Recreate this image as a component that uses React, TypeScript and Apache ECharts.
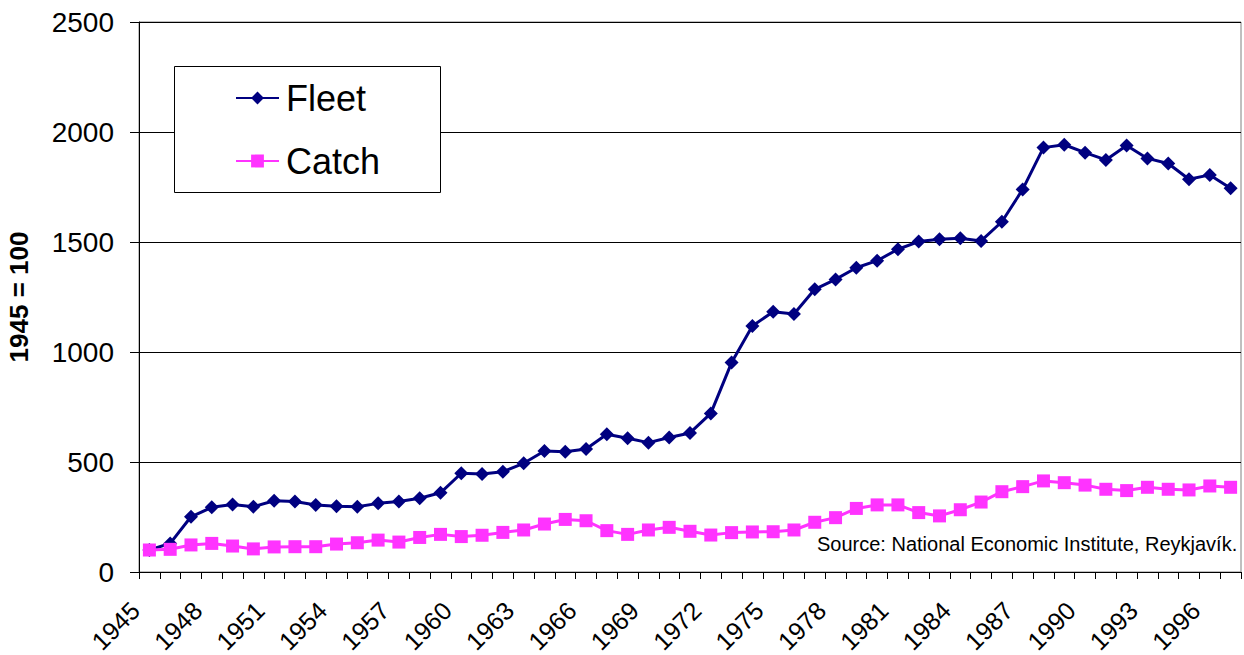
import React, { useEffect, useRef } from "react";
import * as echarts from "echarts";

const years: string[] = [
  "1945", "1946", "1947", "1948", "1949", "1950", "1951", "1952", "1953", "1954",
  "1955", "1956", "1957", "1958", "1959", "1960", "1961", "1962", "1963", "1964",
  "1965", "1966", "1967", "1968", "1969", "1970", "1971", "1972", "1973", "1974",
  "1975", "1976", "1977", "1978", "1979", "1980", "1981", "1982", "1983", "1984",
  "1985", "1986", "1987", "1988", "1989", "1990", "1991", "1992", "1993", "1994",
  "1995", "1996", "1997",
];

const fleet: number[] = [
  100, 130, 251, 294, 307, 297, 324, 320, 305, 299,
  297, 312, 320, 335, 360, 449, 445, 456, 494, 550,
  547, 559, 626, 608, 588, 611, 632, 721, 952, 1118,
  1183, 1173, 1285, 1330, 1383, 1415, 1467, 1502, 1512, 1517,
  1505, 1592, 1739, 1929, 1942, 1906, 1873, 1939, 1880, 1857,
  1785, 1805, 1744,
];

const catchIdx: number[] = [
  100, 103, 123, 130, 118, 105, 114, 115, 115, 127,
  133, 145, 136, 157, 171, 161, 167, 180, 191, 218,
  239, 233, 188, 171, 191, 203, 185, 168, 179, 182,
  183, 191, 226, 247, 289, 305, 305, 270, 255, 283,
  318, 365, 388, 414, 406, 395, 376, 370, 385, 376,
  373, 391, 385,
];

const yAxisTitle = "1945 = 100";
const sourceNote = "Source: National Economic Institute, Reykjavík.";

const FONT = 'Arial, "Liberation Sans", sans-serif';

export default function App() {
  const ref = useRef<HTMLDivElement>(null);

  useEffect(() => {
    if (!ref.current) return;
    const chart = echarts.init(ref.current, undefined, { renderer: "svg" });
    chart.setOption({
      animation: false,
      backgroundColor: "#ffffff",
      textStyle: { fontFamily: FONT },
      grid: {
        left: 139,
        right: 3,
        top: 22,
        bottom: 83,
        containLabel: false,
        outerBoundsMode: "none",
        show: true,
        borderColor: "#808080",
        borderWidth: 1,
        backgroundColor: "transparent",
      },
      legend: {
        orient: "vertical",
        left: 235,
        top: 78,
        itemWidth: 43,
        itemHeight: 16,
        itemGap: 23,
        padding: 0,
        textStyle: {
          fontFamily: FONT,
          fontSize: 36,
          color: "#000",
          lineHeight: 40,
          padding: [0, 0, 0, 2],
        },
        data: ["Fleet", "Catch"],
      },
      xAxis: {
        type: "category",
        data: years,
        boundaryGap: true,
        axisLine: { lineStyle: { color: "#000", width: 1 } },
        axisTick: {
          show: true,
          interval: 0,
          length: 7,
          lineStyle: { color: "#000" },
        },
        axisLabel: {
          interval: 2,
          rotate: 45,
          fontSize: 25,
          lineHeight: 22,
          fontFamily: FONT,
          color: "#000",
          margin: 20,
          padding: [0, 20, 0, 0],
        },
        splitLine: { show: false },
      },
      yAxis: {
        type: "value",
        min: 0,
        max: 2500,
        interval: 500,
        name: yAxisTitle,
        nameLocation: "middle",
        nameRotate: 90,
        nameGap: 107,
        nameTextStyle: {
          fontFamily: FONT,
          fontSize: 26,
          fontWeight: "bold",
          color: "#000",
        },
        axisLine: { show: true, lineStyle: { color: "#000", width: 1 } },
        axisTick: { show: true, length: 9, lineStyle: { color: "#000" } },
        axisLabel: {
          fontSize: 28,
          fontFamily: FONT,
          color: "#000",
          margin: 25,
          formatter: (v: number) => String(v),
        },
        splitLine: { show: true, lineStyle: { color: "#000", width: 1 } },
      },
      graphic: [
        {
          type: "rect",
          left: 174,
          top: 66,
          shape: { width: 266, height: 126 },
          style: { fill: "#fff", stroke: "#000", lineWidth: 1 },
          z: 4,
        },
        {
          type: "text",
          left: 817,
          top: 534,
          style: {
            text: sourceNote,
            fontFamily: FONT,
            fontSize: 20,
            fill: "#000",
          },
          z: 5,
        },
      ],
      series: [
        {
          name: "Fleet",
          type: "line",
          data: fleet,
          symbol: "diamond",
          symbolSize: 14,
          showAllSymbol: true,
          color: "#000080",
          lineStyle: { color: "#000080", width: 3 },
          itemStyle: { color: "#000080" },
          z: 2,
        },
        {
          name: "Catch",
          type: "line",
          data: catchIdx,
          symbol: "rect",
          symbolSize: 13,
          showAllSymbol: true,
          color: "#ff33ff",
          lineStyle: { color: "#ff33ff", width: 3 },
          itemStyle: { color: "#ff33ff" },
          z: 3,
        },
      ],
    });
    return () => chart.dispose();
  }, []);

  return (
    <div
      ref={ref}
      style={{ position: "absolute", left: 0, top: 0, width: 1244, height: 655 }}
    />
  );
}
